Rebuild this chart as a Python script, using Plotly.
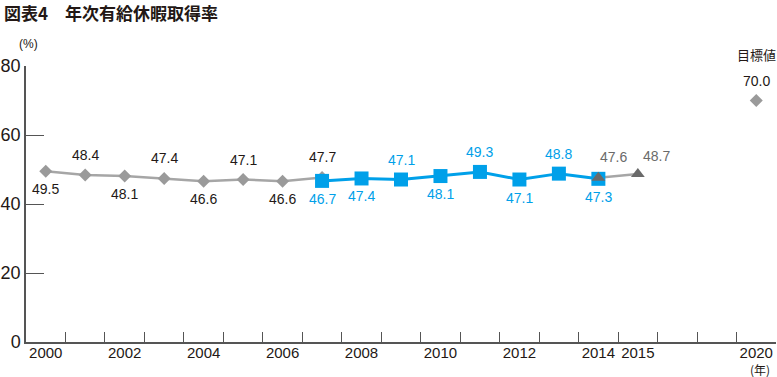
import plotly.graph_objects as go

# ---- data ----
axis_slots = list(range(2000, 2018)) + [2020]          # category slots on the x axis
tick_years = [2000, 2002, 2004, 2006, 2008, 2010, 2012, 2014, 2015, 2020]
tick_labels = [str(y) for y in tick_years]

old_years = [2000, 2001, 2002, 2003, 2004, 2005, 2006, 2007]
old_values = [49.5, 48.4, 48.1, 47.4, 46.6, 47.1, 46.6, 47.7]
old_label_pos = ["below", "above", "below", "above", "below", "above", "below", "above"]

new_years = [2007, 2008, 2009, 2010, 2011, 2012, 2013, 2014]
new_values = [46.7, 47.4, 47.1, 48.1, 49.3, 47.1, 48.8, 47.3]
new_label_pos = ["below", "below", "above", "below", "above", "below", "above", "below"]

latest_years = [2014, 2015]
latest_values = [47.6, 48.7]

target_year = [2020]
target_value = [70.0]

y_ticks = [0, 20, 40, 60, 80]

# ---- layout helpers ----
def slot(year):
    return axis_slots.index(year)

GRAY_LINE = "#a6a6a6"
GRAY_MARK = "#9a9a9a"
BLUE = "#00a0e9"
DARK_TRI = "#6a6a6a"
TEXT = "#231815"
AXIS = "#555555"
NUM_FONT = "Liberation Sans, Arial, sans-serif"
JP_FONT = "Noto Sans CJK JP, sans-serif"

L, R, T, B = 26, 1, 66, 35
W, H = 777, 377
pw, ph = W - L - R, H - T - B

def px_x(px):
    return (px - L) / pw

def px_y(py):
    return (H - B - py) / ph

fig = go.Figure()

fig.add_trace(go.Scatter(
    x=[slot(y) for y in old_years], y=old_values, mode="lines+markers",
    line=dict(color=GRAY_LINE, width=2.5),
    marker=dict(symbol="diamond", size=10, color=GRAY_MARK),
    showlegend=False, hoverinfo="skip"))

fig.add_trace(go.Scatter(
    x=[slot(y) for y in latest_years], y=latest_values, mode="lines",
    line=dict(color=GRAY_LINE, width=2.5),
    showlegend=False, hoverinfo="skip"))

fig.add_trace(go.Scatter(
    x=[slot(y) for y in new_years], y=new_values, mode="lines+markers",
    line=dict(color=BLUE, width=3),
    marker=dict(symbol="square", size=14, color=BLUE),
    showlegend=False, hoverinfo="skip"))

fig.add_trace(go.Scatter(
    x=[slot(y) for y in latest_years], y=latest_values, mode="markers",
    marker=dict(symbol="triangle-up", size=12, color=DARK_TRI),
    showlegend=False, hoverinfo="skip"))

fig.add_trace(go.Scatter(
    x=[slot(y) for y in target_year], y=target_value, mode="markers",
    marker=dict(symbol="diamond", size=10, color=GRAY_MARK),
    showlegend=False, hoverinfo="skip"))

# dummy trace so that the label axis is drawn
fig.add_trace(go.Scatter(x=[0], y=[0], xaxis="x2", mode="markers",
                         marker=dict(opacity=0), showlegend=False, hoverinfo="skip"))

annotations = []

def add_labels(years, values, positions, color):
    for yr, v, p in zip(years, values, positions):
        annotations.append(dict(
            x=slot(yr), y=v, xref="x", yref="y", text=f"{v:.1f}", showarrow=False,
            yshift=20 if p == "above" else -18,
            font=dict(family=NUM_FONT, size=14, color=color)))

add_labels(old_years, old_values, old_label_pos, TEXT)
add_labels(new_years, new_values, new_label_pos, BLUE)

# latest-survey labels
annotations.append(dict(x=slot(latest_years[0]), y=latest_values[0], xref="x", yref="y",
                        text=f"{latest_values[0]:.1f}", showarrow=False, yshift=21, xshift=15,
                        font=dict(family=NUM_FONT, size=14, color="#6a6a6a")))
annotations.append(dict(x=slot(latest_years[1]), y=latest_values[1], xref="x", yref="y",
                        text=f"{latest_values[1]:.1f}", showarrow=False, yshift=18, xshift=19,
                        font=dict(family=NUM_FONT, size=14, color="#6a6a6a")))
# target
annotations.append(dict(x=slot(target_year[0]), y=target_value[0], xref="x", yref="y",
                        text=f"{target_value[0]:.1f}", showarrow=False, yshift=20,
                        font=dict(family=NUM_FONT, size=14, color=TEXT)))
annotations.append(dict(x=slot(target_year[0]), y=target_value[0], xref="x", yref="y",
                        text="目標値", showarrow=False, yshift=46,
                        font=dict(family=JP_FONT, size=13, color=TEXT)))

# title and unit labels
annotations.append(dict(x=px_x(2), y=px_y(12), xref="paper", yref="paper",
                        xanchor="left", yanchor="middle", showarrow=False,
                        text="<b>図表4　年次有給休暇取得率</b>",
                        font=dict(family=JP_FONT, size=17, color=TEXT)))
annotations.append(dict(x=px_x(28), y=px_y(44), xref="paper", yref="paper",
                        xanchor="center", yanchor="middle", showarrow=False,
                        text="(%)", font=dict(family=NUM_FONT, size=12, color=TEXT)))
annotations.append(dict(x=px_x(760), y=px_y(369), xref="paper", yref="paper",
                        xanchor="center", yanchor="middle", showarrow=False,
                        text="(年)", font=dict(family=JP_FONT, size=12, color=TEXT)))

fig.update_layout(
    width=W, height=H,
    margin=dict(l=L, r=R, t=T, b=B, autoexpand=False),
    paper_bgcolor="white", plot_bgcolor="white",
    annotations=annotations,
    xaxis=dict(
        range=[-0.5, len(axis_slots) - 0.5], automargin=False,
        tickvals=[i + 0.5 for i in range(len(axis_slots))],
        showticklabels=False, ticks="inside", ticklen=10, tickwidth=1.2, tickcolor=AXIS,
        showline=True, linecolor=AXIS, linewidth=1.5,
        showgrid=False, zeroline=False, fixedrange=True),
    xaxis2=dict(
        range=[-0.5, len(axis_slots) - 0.5], overlaying="x", anchor="y", side="bottom",
        automargin=False,
        tickvals=[slot(y) for y in tick_years], ticktext=tick_labels,
        ticks="", showline=False, showgrid=False, zeroline=False,
        tickfont=dict(family=NUM_FONT, size=15, color=TEXT)),
    yaxis=dict(
        range=[0, 80], tickvals=y_ticks, automargin=False,
        ticks="inside", ticklen=18, tickwidth=1.2, tickcolor=AXIS,
        showline=True, linecolor=AXIS, linewidth=1.5,
        showgrid=False, zeroline=False,
        tickfont=dict(family=NUM_FONT, size=18, color=TEXT)),
)

fig.write_html("out.html", config={"displayModeBar": False},
               post_script="document.body.style.margin='0';document.body.style.padding='0';")
